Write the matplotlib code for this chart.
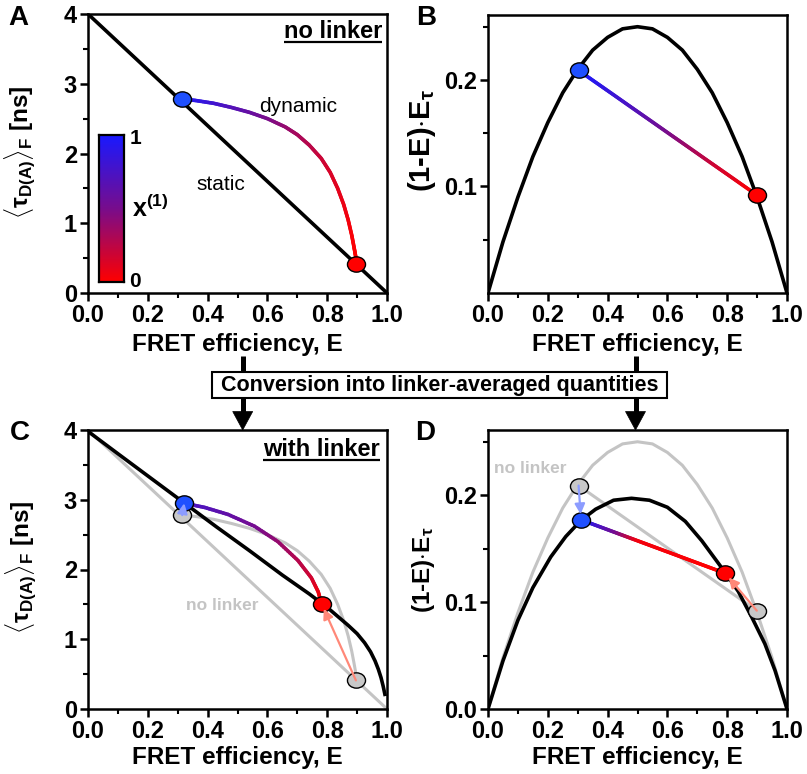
import numpy as np
import matplotlib
matplotlib.use('Agg')
import matplotlib.pyplot as plt
from matplotlib.collections import LineCollection
from matplotlib.colors import LinearSegmentedColormap
from matplotlib.patches import Rectangle, Polygon
from matplotlib.lines import Line2D
import matplotlib.path as mpath
from matplotlib.transforms import Affine2D

plt.rcParams['font.family'] = ['Liberation Sans', 'DejaVu Sans']
plt.rcParams['font.weight'] = 'bold'
plt.rcParams['axes.labelweight'] = 'bold'
plt.rcParams['mathtext.fontset'] = 'custom'
plt.rcParams['mathtext.rm'] = 'Liberation Sans:bold'
plt.rcParams['mathtext.bf'] = 'Liberation Sans:bold'
plt.rcParams['mathtext.it'] = 'Liberation Sans:italic'
plt.rcParams['mathtext.sf'] = 'Liberation Sans'

# ---------------- data ----------------
# Panel A (no linker): static line and dynamic curve
E_static = [0.0, 1.0]
tau_static = [4.0, 0.0]
E_dyn = [0.315, 0.36, 0.42, 0.48, 0.54, 0.60, 0.66, 0.70, 0.74, 0.78, 0.81,
         0.835, 0.855, 0.87, 0.882, 0.89, 0.895, 0.898]
tau_dyn = [2.78, 2.76, 2.72, 2.66, 2.59, 2.50, 2.38, 2.27, 2.12, 1.93, 1.73,
           1.50, 1.27, 1.05, 0.83, 0.65, 0.53, 0.41]
x1_dyn = [1.0, 0.90, 0.80, 0.70, 0.60, 0.50, 0.40, 0.33, 0.27, 0.20, 0.15,
          0.11, 0.075, 0.05, 0.03, 0.017, 0.008, 0.0]
dotsA_E = [0.315, 0.896]
dotsA_tau = [2.78, 0.41]

# Panel B (no linker): static parabola and dynamic line
E_par = [0.0, 0.05, 0.10, 0.15, 0.20, 0.25, 0.30, 0.35, 0.40, 0.45, 0.50,
         0.55, 0.60, 0.65, 0.70, 0.75, 0.80, 0.85, 0.90, 0.95, 1.0]
y_par = [0.0, 0.048, 0.090, 0.128, 0.160, 0.188, 0.210, 0.228, 0.240, 0.248, 0.250,
         0.248, 0.240, 0.228, 0.210, 0.188, 0.160, 0.128, 0.090, 0.048, 0.0]
dotsB_E = [0.303, 0.899]
dotsB_y = [0.209, 0.092]
lineB_stopE = [0.303, 0.45, 0.60, 0.75, 0.899]
lineB_stopx1 = [1.0, 0.78, 0.5, 0.2, 0.0]

# Panel C (with linker)
E_Cblack = [0.0, 0.10, 0.21, 0.32, 0.43, 0.54, 0.65, 0.74, 0.78, 0.81, 0.84,
            0.87, 0.90, 0.925, 0.945, 0.96, 0.971, 0.98, 0.987, 0.993]
tau_Cblack = [3.98, 3.66, 3.31, 2.96, 2.61, 2.27, 1.92, 1.65, 1.52, 1.42, 1.31,
              1.20, 1.08, 0.95, 0.82, 0.69, 0.57, 0.45, 0.33, 0.21]
E_Cdyn = [0.322, 0.39, 0.468, 0.557, 0.635, 0.702, 0.747, 0.770, 0.781]
tau_Cdyn = [2.95, 2.89, 2.79, 2.62, 2.40, 2.13, 1.88, 1.68, 1.51]
x1_Cdyn = [0.75, 0.70, 0.62, 0.52, 0.40, 0.28, 0.18, 0.08, 0.0]
dotsC_E = [0.322, 0.781]
dotsC_tau = [2.95, 1.51]

# Panel D (with linker)
E_Dblack = [0.0, 0.05, 0.10, 0.15, 0.21, 0.26, 0.311, 0.36, 0.42, 0.48,
            0.54, 0.60, 0.66, 0.715, 0.795, 0.837, 0.882, 0.926, 0.960, 1.0]
y_Dblack = [0.0, 0.045, 0.083, 0.1135, 0.1423, 0.1613, 0.1765, 0.1869, 0.1953, 0.1971,
            0.1953, 0.1887, 0.1755, 0.1574, 0.127, 0.110, 0.086, 0.061, 0.036, 0.0]
dotsD_E = [0.311, 0.793]
dotsD_y = [0.177, 0.127]
lineD_stopE = [0.311, 0.36, 0.43, 0.50, 0.793]
lineD_stopx1 = [1.0, 0.8, 0.5, 0.05, 0.0]

x_ticks = [0.0, 0.2, 0.4, 0.6, 0.8, 1.0]
tau_ticks = [0, 1, 2, 3, 4]

# ---------------- styling helpers ----------------
cmap = LinearSegmentedColormap.from_list(
    'x1', [(0.0, (1.0, 0.0, 0.0)), (0.5, (0.47, 0.05, 0.55)), (1.0, (0.1, 0.1, 1.0))])

W, H = 807, 774
fig = plt.figure(figsize=(W / 100, H / 100), dpi=100)


def px_ax(l, t, r, b):
    return fig.add_axes([l / W, 1 - b / H, (r - l) / W, (b - t) / H])


def fx(x):
    return x / W


def fy(y):
    return 1 - y / H


axA = px_ax(88, 14, 387, 293)
axB = px_ax(488, 15, 787, 293)
axC = px_ax(88, 430, 387, 709)
axD = px_ax(488, 430, 787, 709)

ell = mpath.Path.unit_circle().transformed(Affine2D().scale(1.18, 1.0))


def style(ax, ylim, yt, ymin, yfmt):
    ax.set_xlim(0, 1)
    ax.set_ylim(*ylim)
    ax.set_xticks(x_ticks)
    ax.set_xticks(np.arange(0.1, 1.0, 0.2), minor=True)
    ax.set_xticklabels(['%.1f' % v for v in x_ticks])
    ax.set_yticks(yt)
    ax.set_yticks(ymin, minor=True)
    ax.set_yticklabels([yfmt % v for v in yt])
    for s in ax.spines.values():
        s.set_linewidth(1.8)
    ax.tick_params(which='major', direction='out', length=6, width=1.8,
                   labelsize=17, pad=2)
    ax.tick_params(which='minor', direction='out', length=3.5, width=1.5)
    for lab in ax.get_xticklabels() + ax.get_yticklabels():
        lab.set_fontweight('bold')
    ax.set_xlabel('FRET efficiency, E', fontsize=17.5, fontweight='bold')


def grad_curve(ax, xs, ys, fr, lw, z, n=10):
    xs = np.asarray(xs, float); ys = np.asarray(ys, float); fr = np.asarray(fr, float)
    segs, cols = [], []
    for i in range(len(xs) - 1):
        t = np.linspace(0, 1, n + 1)
        px = xs[i] + t * (xs[i + 1] - xs[i])
        py = ys[i] + t * (ys[i + 1] - ys[i])
        pf = fr[i] + t * (fr[i + 1] - fr[i])
        for k in range(n):
            segs.append([(px[k], py[k]), (px[k + 1], py[k + 1])])
            cols.append(cmap((pf[k] + pf[k + 1]) / 2))
    lc = LineCollection(segs, colors=cols, linewidths=lw, capstyle='round',
                        joinstyle='round', zorder=z)
    ax.add_collection(lc)


def grad_straight(ax, ex, ey, stopE, stopx1, lw, z, n=120):
    t = np.linspace(0, 1, n + 1)
    px = ex[0] + t * (ex[1] - ex[0])
    py = ey[0] + t * (ey[1] - ey[0])
    pf = np.interp(px, stopE, stopx1)
    grad_curve(ax, px, py, pf, lw, z, n=1)


def dot(ax, x, y, color, z=6):
    ax.plot([x], [y], marker=ell, ms=13, mfc=color, mec='black', mew=1.0,
            ls='none', zorder=z)


def arrow(ax, x0, y0, x1, y1, color, shrink=4):
    ax.annotate('', xy=(x1, y1), xytext=(x0, y0),
                arrowprops=dict(arrowstyle='-|>,head_length=0.6,head_width=0.3',
                                color=color, lw=1.6, shrinkA=0, shrinkB=shrink),
                zorder=8)


BLUE = '#1f50ff'
RED = '#ff0000'
GRAYDOT = '#c8c8c8'
GRAYLINE = '#c4c4c4'
TAU_LABEL = r'$\langle\mathsf{\tau}_{\mathbf{D(A)}}\rangle_{\mathbf{F}}$ [ns]'
EXPR_LABEL = r'(1-E)$\cdot$E$_{\mathrm{\tau}}$'

# ---------------- Panel A ----------------
style(axA, (0, 4), tau_ticks, np.arange(0.5, 4, 1.0), '%d')
axA.plot(E_static, tau_static, color='black', lw=2.6, zorder=3)
grad_curve(axA, E_dyn, tau_dyn, x1_dyn, 2.6, 4)
dot(axA, dotsA_E[0], dotsA_tau[0], BLUE)
dot(axA, dotsA_E[1], dotsA_tau[1], RED)
axA.text(0.702, 2.68, 'dynamic', fontsize=15, fontweight='normal', ha='center', va='center')
axA.text(0.445, 1.56, 'static', fontsize=15, fontweight='normal', ha='center', va='center')
axA.set_ylabel(TAU_LABEL, fontsize=17.5)
axA.yaxis.set_label_coords(-0.17, 0.505)
axA.xaxis.set_label_coords(0.5, -0.145)
tA = axA.text(0.983, 0.913, 'no linker', transform=axA.transAxes, ha='right',
              va='baseline', fontsize=17, fontweight='bold')

# colorbar
cax = px_ax(99, 135, 123.5, 281.7)
grad = np.linspace(1, 0, 256).reshape(-1, 1)
cax.imshow(grad, cmap=cmap, aspect='auto', vmin=0, vmax=1)
cax.set_xticks([]); cax.set_yticks([])
for s in cax.spines.values():
    s.set_linewidth(1.6)
fig.text(fx(130), fy(138), '1', fontsize=15, fontweight='bold', ha='left', va='center')
fig.text(fx(129), fy(281), '0', fontsize=15, fontweight='bold', ha='left', va='center')
fig.text(fx(132), fy(208), r'$\mathbf{x}^{\mathbf{(1)}}$', fontsize=18, ha='left', va='center')

# ---------------- Panel B ----------------
style(axB, (0, 0.261), [0.1, 0.2], [0.05, 0.15, 0.25], '%.1f')
axB.plot(E_par, y_par, color='black', lw=2.6, zorder=3)
grad_straight(axB, dotsB_E, dotsB_y, lineB_stopE, lineB_stopx1, 2.6, 4)
dot(axB, dotsB_E[0], dotsB_y[0], BLUE)
dot(axB, dotsB_E[1], dotsB_y[1], RED)
axB.set_ylabel(EXPR_LABEL, fontsize=21)
axB.yaxis.set_label_coords(-0.168, 0.55)
axB.xaxis.set_label_coords(0.5, -0.145)

# ---------------- Panel C ----------------
style(axC, (0, 4), tau_ticks, np.arange(0.5, 4, 1.0), '%d')
axC.plot(E_static, tau_static, color=GRAYLINE, lw=2.2, zorder=2)
axC.plot(E_dyn, tau_dyn, color=GRAYLINE, lw=2.2, zorder=2)
axC.plot(E_Cblack, tau_Cblack, color='black', lw=2.6, zorder=3,
         solid_joinstyle='round')
grad_curve(axC, E_Cdyn, tau_Cdyn, x1_Cdyn, 2.6, 4)
dot(axC, dotsA_E[0], dotsA_tau[0], GRAYDOT, z=5)
dot(axC, dotsA_E[1], dotsA_tau[1], GRAYDOT, z=5)
dot(axC, dotsC_E[0], dotsC_tau[0], BLUE)
dot(axC, dotsC_E[1], dotsC_tau[1], RED)
arrow(axC, dotsA_E[0], dotsA_tau[0], dotsC_E[0], dotsC_tau[0], '#8c9cff', shrink=0)
arrow(axC, dotsA_E[1], dotsA_tau[1], dotsC_E[1], dotsC_tau[1], '#ff8878')
axC.text(0.45, 1.49, 'no linker', color='#c4c4c4', fontsize=12.5, fontweight='bold',
         ha='center', va='center')
axC.set_ylabel(TAU_LABEL, fontsize=17.5)
axC.yaxis.set_label_coords(-0.167, 0.509)
axC.xaxis.set_label_coords(0.5, -0.132)
tC = axC.text(0.977, 0.907, 'with linker', transform=axC.transAxes, ha='right',
              va='baseline', fontsize=17, fontweight='bold')

# ---------------- Panel D ----------------
style(axD, (0, 0.261), [0.0, 0.1, 0.2], [0.05, 0.15, 0.25], '%.1f')
axD.plot(E_par, y_par, color=GRAYLINE, lw=2.2, zorder=2)
axD.plot(dotsB_E, dotsB_y, color=GRAYLINE, lw=2.2, zorder=2)
axD.plot(E_Dblack, y_Dblack, color='black', lw=2.6, zorder=3, solid_joinstyle='round')
grad_straight(axD, dotsD_E, dotsD_y, lineD_stopE, lineD_stopx1, 2.6, 4)
dot(axD, dotsB_E[0], dotsB_y[0], GRAYDOT, z=5)
dot(axD, dotsB_E[1], dotsB_y[1], GRAYDOT, z=5)
dot(axD, dotsD_E[0], dotsD_y[0], BLUE)
dot(axD, dotsD_E[1], dotsD_y[1], RED)
arrow(axD, dotsB_E[0], dotsB_y[0], dotsD_E[0], dotsD_y[0], '#8c9cff')
arrow(axD, dotsB_E[1], dotsB_y[1], dotsD_E[1], dotsD_y[1], '#ff8878')
axD.text(0.02, 0.225, 'no linker', color='#c4c4c4', fontsize=12.5, fontweight='bold',
         ha='left', va='center')
axD.set_ylabel(EXPR_LABEL, fontsize=17.5)
axD.yaxis.set_label_coords(-0.171, 0.498)
axD.xaxis.set_label_coords(0.5, -0.132)

# ---------------- panel letters ----------------
for letter, x, y in [('A', 8, 18), ('B', 416, 18), ('C', 10, 433), ('D', 415, 433)]:
    fig.text(fx(x), fy(y), letter, fontsize=20, fontweight='bold', ha='left', va='center')

# ---------------- conversion box and arrows ----------------
fig.patches.append(Rectangle((fx(212), fy(398)), (667 - 212) / W, (398 - 372) / H,
                             transform=fig.transFigure, fc='white', ec='black', lw=1.5,
                             zorder=5))
fig.text(fx(439.5), fy(385.5), 'Conversion into linker-averaged quantities', fontsize=15.5,
         fontweight='bold', ha='center', va='center', zorder=6)
for xc in (242.7, 635.5):
    fig.lines.append(Line2D([fx(xc), fx(xc)], [fy(356), fy(372)], transform=fig.transFigure,
                            color='black', lw=3.6, solid_capstyle='butt'))
    fig.lines.append(Line2D([fx(xc), fx(xc)], [fy(398), fy(414)], transform=fig.transFigure,
                            color='black', lw=3.6, solid_capstyle='butt'))
    fig.patches.append(Polygon([(fx(xc - 10), fy(411.5)), (fx(xc + 10), fy(411.5)),
                                (fx(xc), fy(430))], closed=True, transform=fig.transFigure,
                               fc='black', ec='black', lw=0.5))

# underlines
fig.canvas.draw()
r = fig.canvas.get_renderer()
for ax, t, yu in [(axA, tA, 0.899), (axC, tC, 0.892)]:
    bb = t.get_window_extent(r).transformed(ax.transAxes.inverted())
    ax.plot([bb.x0, bb.x1], [yu, yu], transform=ax.transAxes, color='black', lw=1.6,
            solid_capstyle='butt', clip_on=False)

fig.savefig('out.png', dpi=100)
